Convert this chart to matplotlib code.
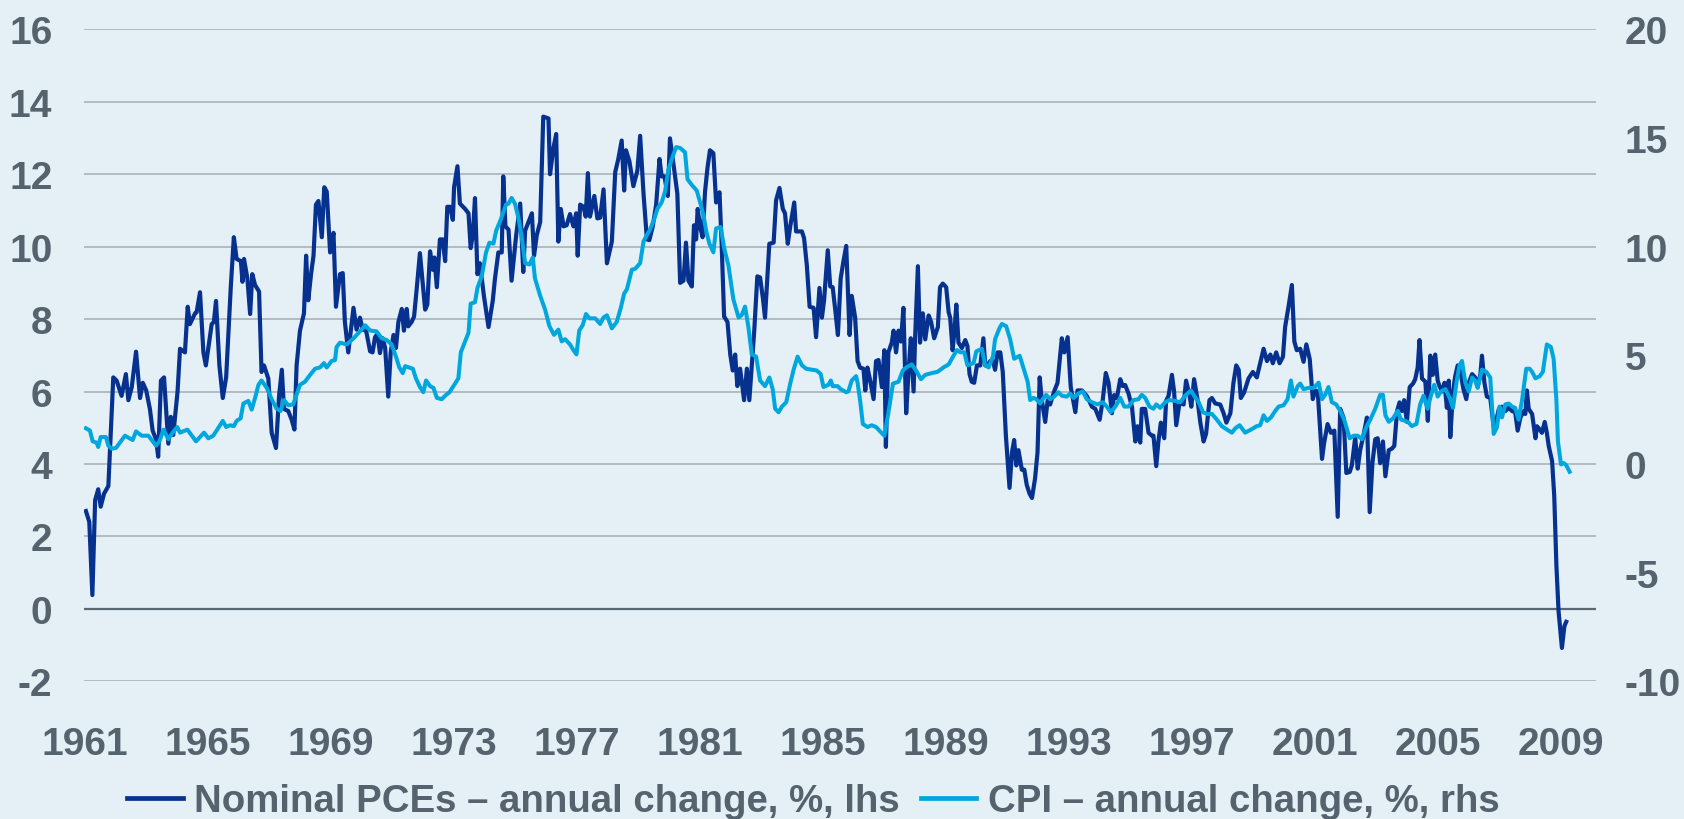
import numpy as np
import matplotlib
matplotlib.use('Agg')
import matplotlib.pyplot as plt
from matplotlib.lines import Line2D

#----Data (decimal year, % y/y)----
pce_t = [1961.04, 1961.15, 1961.25, 1961.34, 1961.44, 1961.52, 1961.63, 1961.77, 1961.93, 1962.04,
         1962.20, 1962.34, 1962.42, 1962.53, 1962.67, 1962.80, 1962.89, 1963.00, 1963.12, 1963.21,
         1963.32, 1963.39, 1963.48, 1963.58, 1963.72, 1963.80, 1963.88, 1964.02, 1964.10, 1964.26,
         1964.35, 1964.42, 1964.59, 1964.64, 1964.75, 1964.86, 1964.94, 1965.13, 1965.20, 1965.27,
         1965.38, 1965.49, 1965.60, 1965.75, 1965.85, 1965.94, 1966.08, 1966.13, 1966.18, 1966.29,
         1966.38, 1966.45, 1966.54, 1966.67, 1966.75, 1966.83, 1966.97, 1967.08, 1967.22, 1967.32,
         1967.41, 1967.48, 1967.62, 1967.73, 1967.82, 1967.89, 1968.00, 1968.13, 1968.20, 1968.27,
         1968.36, 1968.44, 1968.52, 1968.60, 1968.71, 1968.79, 1968.87, 1968.98, 1969.09, 1969.17,
         1969.30, 1969.39, 1969.46, 1969.57, 1969.74, 1969.84, 1969.95, 1970.04, 1970.15, 1970.28,
         1970.36, 1970.44, 1970.52, 1970.60, 1970.69, 1970.77, 1970.87, 1970.95, 1971.04, 1971.12,
         1971.20, 1971.31, 1971.38, 1971.47, 1971.52, 1971.63, 1971.71, 1971.80, 1971.90, 1972.07,
         1972.14, 1972.23, 1972.32, 1972.37, 1972.45, 1972.55, 1972.64, 1972.72, 1972.79, 1972.88,
         1972.97, 1973.01, 1973.12, 1973.20, 1973.37, 1973.48, 1973.55, 1973.62, 1973.69, 1973.77,
         1973.85, 1973.98, 1974.13, 1974.27, 1974.34, 1974.45, 1974.56, 1974.61, 1974.68, 1974.78,
         1974.88, 1975.03, 1975.16, 1975.26, 1975.32, 1975.43, 1975.54, 1975.61, 1975.70, 1975.81,
         1975.91, 1976.08, 1976.13, 1976.24, 1976.33, 1976.40, 1976.48, 1976.57, 1976.67, 1976.78,
         1976.89, 1976.98, 1977.03, 1977.11, 1977.22, 1977.29, 1977.36, 1977.43, 1977.57, 1977.67,
         1977.76, 1977.87, 1977.98, 1978.14, 1978.25, 1978.35, 1978.46, 1978.54, 1978.60, 1978.71,
         1978.84, 1978.97, 1979.06, 1979.17, 1979.28, 1979.36, 1979.47, 1979.58, 1979.69, 1979.76,
         1979.85, 1979.96, 1980.03, 1980.14, 1980.27, 1980.36, 1980.47, 1980.55, 1980.63, 1980.74,
         1980.81, 1980.88, 1980.93, 1981.01, 1981.09, 1981.17, 1981.25, 1981.33, 1981.44, 1981.53,
         1981.64, 1981.71, 1981.79, 1981.90, 1981.99, 1982.07, 1982.15, 1982.22, 1982.31, 1982.36,
         1982.44, 1982.53, 1982.61, 1982.69, 1982.77, 1982.87, 1982.96, 1983.05, 1983.12, 1983.26,
         1983.40, 1983.48, 1983.59, 1983.70, 1983.77, 1983.86, 1983.94, 1984.07, 1984.13, 1984.32,
         1984.39, 1984.48, 1984.57, 1984.70, 1984.78, 1984.89, 1984.97, 1985.04, 1985.16, 1985.24,
         1985.32, 1985.40, 1985.49, 1985.58, 1985.67, 1985.76, 1985.87, 1985.94, 1986.05, 1986.13,
         1986.21, 1986.32, 1986.38, 1986.45, 1986.54, 1986.65, 1986.73, 1986.81, 1986.92, 1987.00,
         1987.05, 1987.13, 1987.24, 1987.30, 1987.38, 1987.46, 1987.54, 1987.62, 1987.71, 1987.79,
         1987.86, 1987.95, 1988.00, 1988.09, 1988.16, 1988.25, 1988.33, 1988.44, 1988.52, 1988.62,
         1988.74, 1988.81, 1988.90, 1989.01, 1989.09, 1989.14, 1989.22, 1989.28, 1989.34, 1989.41,
         1989.52, 1989.63, 1989.70, 1989.77, 1989.84, 1989.92, 1990.01, 1990.12, 1990.22, 1990.28,
         1990.35, 1990.44, 1990.53, 1990.60, 1990.68, 1990.77, 1990.85, 1990.95, 1991.07, 1991.15,
         1991.22, 1991.29, 1991.36, 1991.47, 1991.55, 1991.63, 1991.72, 1991.80, 1991.90, 1991.98,
         1992.05, 1992.12, 1992.23, 1992.31, 1992.39, 1992.52, 1992.63, 1992.77, 1992.85, 1992.96,
         1993.06, 1993.21, 1993.28, 1993.42, 1993.58, 1993.75, 1993.86, 1994.00, 1994.10, 1994.20,
         1994.29, 1994.40, 1994.47, 1994.56, 1994.67, 1994.75, 1994.83, 1994.94, 1995.05, 1995.16,
         1995.23, 1995.32, 1995.37, 1995.48, 1995.59, 1995.70, 1995.75, 1995.84, 1995.91, 1995.99,
         1996.10, 1996.16, 1996.24, 1996.35, 1996.42, 1996.49, 1996.60, 1996.73, 1996.81, 1996.92,
         1996.98, 1997.07, 1997.18, 1997.27, 1997.38, 1997.46, 1997.57, 1997.65, 1997.76, 1997.92,
         1998.03, 1998.12, 1998.25, 1998.35, 1998.44, 1998.52, 1998.59, 1998.70, 1998.84, 1998.98,
         1999.11, 1999.22, 1999.33, 1999.44, 1999.55, 1999.63, 1999.74, 1999.85, 1999.96, 2000.03,
         2000.14, 2000.25, 2000.33, 2000.41, 2000.52, 2000.63, 2000.72, 2000.83, 2000.93, 2001.01,
         2001.09, 2001.23, 2001.30, 2001.41, 2001.52, 2001.63, 2001.74, 2001.82, 2001.93, 2002.02,
         2002.13, 2002.20, 2002.31, 2002.39, 2002.47, 2002.58, 2002.69, 2002.78, 2002.87, 2002.96,
         2003.04, 2003.12, 2003.21, 2003.29, 2003.40, 2003.50, 2003.58, 2003.67, 2003.75, 2003.83,
         2003.90, 2003.99, 2004.08, 2004.19, 2004.26, 2004.34, 2004.40, 2004.48, 2004.59, 2004.67,
         2004.75, 2004.83, 2004.91, 2004.99, 2005.05, 2005.13, 2005.21, 2005.29, 2005.35, 2005.40,
         2005.49, 2005.56, 2005.64, 2005.73, 2005.83, 2005.92, 2006.00, 2006.11, 2006.21, 2006.29,
         2006.38, 2006.43, 2006.51, 2006.59, 2006.70, 2006.81, 2006.90, 2006.98, 2007.08, 2007.19,
         2007.30, 2007.41, 2007.51, 2007.59, 2007.68, 2007.79, 2007.84, 2007.89, 2007.95, 2008.06,
         2008.17, 2008.22, 2008.31, 2008.38, 2008.47, 2008.54, 2008.60, 2008.71, 2008.78, 2008.85,
         2008.92, 2009.03, 2009.11, 2009.17]
pce_v = [2.70, 2.40, 0.38, 3.00, 3.30, 2.82, 3.18, 3.39, 6.39, 6.30,
         5.88, 6.48, 5.76, 6.12, 7.10, 5.82, 6.24, 6.03, 5.52, 4.92,
         4.68, 4.20, 6.30, 6.39, 4.56, 5.30, 4.80, 6.00, 7.18, 7.08,
         8.34, 7.86, 8.16, 8.19, 8.74, 7.08, 6.72, 7.86, 7.92, 8.50,
         6.72, 5.82, 6.39, 8.88, 10.26, 9.66, 9.60, 9.03, 9.66, 9.12,
         8.14, 9.24, 8.94, 8.76, 6.54, 6.72, 6.36, 4.86, 4.44, 5.88,
         6.60, 5.52, 5.46, 5.22, 4.95, 6.72, 7.68, 8.16, 9.75, 8.52,
         9.24, 9.75, 11.16, 11.26, 10.26, 11.64, 11.52, 9.84, 10.38, 8.34,
         9.24, 9.27, 7.92, 7.08, 8.31, 7.71, 8.04, 7.71, 7.68, 7.11,
         7.08, 7.50, 7.59, 7.06, 7.47, 7.20, 5.86, 7.08, 7.56, 7.20,
         7.92, 8.28, 7.68, 8.28, 7.80, 7.92, 8.07, 8.88, 9.82, 8.26,
         8.40, 9.87, 9.36, 9.70, 8.88, 10.20, 10.20, 9.60, 11.10, 11.10,
         10.74, 11.64, 12.22, 11.19, 11.04, 10.92, 9.96, 10.32, 11.34, 9.24,
         9.54, 8.64, 7.78, 8.52, 9.12, 9.84, 9.84, 11.94, 10.56, 10.47,
         9.06, 10.32, 11.19, 9.30, 10.44, 10.68, 10.92, 9.75, 10.32, 10.68,
         13.59, 13.54, 12.00, 12.72, 13.11, 10.14, 11.04, 10.56, 10.59, 10.90,
         10.56, 10.92, 9.75, 11.16, 11.10, 10.83, 12.03, 10.83, 11.40, 10.78,
         10.80, 11.58, 9.54, 10.14, 12.06, 12.42, 12.93, 11.55, 12.66, 12.36,
         11.67, 12.10, 13.06, 11.46, 10.20, 10.18, 10.56, 11.16, 12.42, 11.94,
         11.94, 11.40, 12.99, 12.30, 11.46, 9.00, 9.06, 10.11, 9.06, 8.90,
         10.59, 10.20, 11.04, 10.56, 10.26, 11.52, 12.18, 12.66, 12.58, 11.22,
         11.50, 10.08, 8.07, 7.92, 7.02, 6.58, 7.02, 6.15, 6.63, 6.30,
         5.76, 6.63, 5.76, 6.72, 7.68, 9.18, 9.15, 8.58, 8.04, 10.08,
         10.11, 11.28, 11.62, 11.04, 10.92, 10.08, 10.56, 11.22, 10.42, 10.42,
         10.23, 9.48, 8.34, 8.31, 7.50, 8.86, 8.04, 8.52, 9.90, 8.90,
         8.88, 8.28, 7.56, 9.12, 9.60, 10.02, 7.56, 8.64, 8.04, 6.84,
         6.66, 6.63, 6.03, 6.66, 6.30, 5.79, 6.84, 6.87, 6.12, 7.14,
         4.47, 7.08, 7.35, 7.68, 7.08, 7.68, 7.38, 8.31, 5.40, 6.60,
         7.47, 6.00, 7.47, 9.46, 7.35, 8.16, 7.44, 8.10, 7.92, 7.47,
         7.78, 8.88, 8.98, 8.88, 8.19, 8.04, 7.14, 7.68, 8.40, 7.35,
         7.20, 7.42, 7.26, 6.48, 6.27, 6.24, 6.72, 6.72, 7.47, 6.72,
         6.72, 6.84, 6.84, 6.60, 7.08, 7.08, 6.54, 4.80, 3.34, 4.32,
         4.66, 3.96, 4.38, 3.84, 3.84, 3.42, 3.18, 3.06, 3.60, 4.32,
         6.39, 5.76, 5.16, 5.76, 5.64, 6.00, 6.24, 7.47, 7.08, 7.50,
         6.12, 5.43, 6.03, 6.03, 5.88, 5.58, 5.52, 5.22, 5.76, 6.51,
         6.24, 5.40, 5.90, 5.82, 6.34, 6.15, 6.18, 5.94, 5.58, 4.62,
         5.04, 4.59, 5.52, 5.52, 4.86, 4.78, 4.78, 3.94, 4.62, 5.14,
         4.71, 5.74, 5.88, 6.46, 6.00, 5.07, 5.70, 5.64, 6.30, 5.90,
         5.58, 6.34, 5.79, 5.16, 4.62, 4.83, 5.76, 5.82, 5.67, 5.64,
         5.40, 5.14, 5.40, 6.24, 6.72, 6.60, 5.82, 5.98, 6.36, 6.54,
         6.39, 6.78, 7.18, 6.84, 7.02, 6.78, 7.08, 6.78, 6.96, 7.78,
         8.34, 8.94, 7.38, 7.14, 7.18, 6.82, 7.30, 6.90, 5.79, 6.03,
         6.00, 4.14, 4.59, 5.10, 4.86, 4.92, 2.54, 5.52, 5.28, 3.75,
         3.78, 3.96, 4.74, 3.87, 4.38, 4.80, 5.28, 2.67, 4.04, 4.68,
         4.71, 4.02, 4.62, 3.66, 4.38, 4.42, 4.50, 5.46, 5.70, 5.46,
         5.76, 5.16, 6.12, 6.22, 6.34, 6.66, 7.42, 6.36, 6.27, 5.19,
         6.99, 6.46, 7.02, 6.30, 6.15, 6.00, 6.24, 5.55, 6.30, 4.74,
         6.00, 6.42, 6.72, 6.54, 6.06, 5.79, 6.24, 6.48, 6.39, 6.12,
         6.48, 6.99, 6.24, 5.86, 5.82, 5.04, 5.22, 5.52, 5.58, 5.46,
         5.55, 5.46, 5.43, 4.92, 5.28, 5.46, 5.38, 6.03, 5.52, 5.38,
         4.71, 5.04, 4.95, 4.86, 5.16, 4.86, 4.50, 4.08, 3.12, 1.20,
         -0.06, -1.08, -0.48, -0.36]

cpi_t = [1961.04, 1961.17, 1961.26, 1961.39, 1961.44, 1961.52, 1961.69, 1961.77, 1961.88, 1962.02,
         1962.31, 1962.56, 1962.67, 1962.85, 1963.07, 1963.21, 1963.32, 1963.43, 1963.56, 1963.72,
         1963.86, 1964.01, 1964.10, 1964.34, 1964.62, 1964.88, 1965.02, 1965.18, 1965.31, 1965.49,
         1965.60, 1965.73, 1965.85, 1965.94, 1966.07, 1966.16, 1966.32, 1966.43, 1966.54, 1966.65,
         1966.75, 1966.92, 1967.08, 1967.24, 1967.37, 1967.48, 1967.62, 1967.78, 1968.00, 1968.16,
         1968.33, 1968.49, 1968.65, 1968.78, 1968.87, 1969.03, 1969.14, 1969.19,
         1969.30, 1969.52, 1969.74, 1969.95, 1970.12, 1970.28, 1970.49, 1970.66, 1970.82, 1970.98,
         1971.12, 1971.23, 1971.34, 1971.42, 1971.67, 1971.77, 1971.90, 1972.01, 1972.10, 1972.23,
         1972.34, 1972.45, 1972.61, 1972.75, 1972.86, 1972.99, 1973.15, 1973.23, 1973.37, 1973.48,
         1973.55, 1973.69, 1973.77, 1973.91, 1974.05, 1974.16, 1974.29, 1974.38, 1974.51, 1974.61,
         1974.70, 1974.78, 1974.88, 1974.99, 1975.10, 1975.21, 1975.32, 1975.46, 1975.57, 1975.64,
         1975.81, 1975.97, 1976.11, 1976.26, 1976.40, 1976.51, 1976.62, 1976.78, 1976.89, 1976.99,
         1977.08, 1977.19, 1977.30, 1977.41, 1977.60,
         1977.76, 1977.87, 1977.98, 1978.14, 1978.30, 1978.43, 1978.54, 1978.63, 1978.79, 1978.90,
         1979.06, 1979.17, 1979.28, 1979.38, 1979.51, 1979.62, 1979.76, 1979.87, 1979.98, 1980.09,
         1980.23, 1980.36, 1980.52, 1980.60, 1980.74, 1980.90, 1981.01, 1981.12, 1981.21, 1981.31,
         1981.44, 1981.53, 1981.68, 1981.79, 1981.93, 1982.09, 1982.26, 1982.36, 1982.47, 1982.58,
         1982.69, 1982.83, 1982.96, 1983.12, 1983.26, 1983.37, 1983.45, 1983.56, 1983.67, 1983.81,
         1983.94, 1984.05, 1984.18, 1984.32, 1984.46, 1984.64, 1984.80, 1984.93, 1985.02, 1985.18,
         1985.26, 1985.32, 1985.48, 1985.58, 1985.76, 1985.83, 1985.94, 1986.08, 1986.13,
         1986.21, 1986.30, 1986.45, 1986.59, 1986.73, 1986.86, 1987.00, 1987.13, 1987.28, 1987.46,
         1987.60, 1987.71, 1987.89, 1988.03, 1988.19, 1988.33, 1988.54, 1988.73, 1988.92, 1989.09,
         1989.25, 1989.36, 1989.47, 1989.60, 1989.70, 1989.90, 1989.99, 1990.17, 1990.28, 1990.39,
         1990.53, 1990.60, 1990.74, 1990.82, 1990.96, 1991.09, 1991.22, 1991.40, 1991.53, 1991.66,
         1991.74, 1991.85, 1991.94, 1992.07, 1992.15, 1992.26, 1992.39, 1992.52, 1992.66, 1992.77,
         1992.93, 1993.04, 1993.15, 1993.31, 1993.45, 1993.58, 1993.75, 1993.93, 1994.10, 1994.23,
         1994.36, 1994.51,
         1994.67, 1994.80, 1994.94, 1995.10, 1995.26, 1995.37, 1995.48, 1995.62, 1995.75, 1995.84,
         1995.97, 1996.13, 1996.27, 1996.46, 1996.62, 1996.78, 1996.97, 1997.07, 1997.22, 1997.36,
         1997.49, 1997.65, 1997.81, 1997.97, 1998.14, 1998.30, 1998.41, 1998.55, 1998.73, 1998.92,
         1999.11, 1999.22, 1999.33, 1999.44, 1999.57, 1999.71, 1999.82, 1999.98, 2000.11, 2000.22,
         2000.30, 2000.44, 2000.52, 2000.63, 2000.79, 2000.96, 2001.12, 2001.23, 2001.33, 2001.44,
         2001.55, 2001.69, 2001.82, 2001.95, 2002.13, 2002.26, 2002.39, 2002.53, 2002.67, 2002.80,
         2002.96,
         2003.12, 2003.21, 2003.29, 2003.40, 2003.54, 2003.69, 2003.80, 2003.94, 2004.05, 2004.15,
         2004.30, 2004.42, 2004.53, 2004.66, 2004.77, 2004.88, 2004.99, 2005.10, 2005.24, 2005.38,
         2005.49, 2005.60, 2005.70, 2005.78, 2005.89, 2006.00, 2006.11, 2006.21, 2006.29, 2006.43,
         2006.57, 2006.70, 2006.81, 2006.92, 2007.00, 2007.08, 2007.19, 2007.30, 2007.41, 2007.51,
         2007.62, 2007.73, 2007.87, 2007.98, 2008.06, 2008.17, 2008.31, 2008.41, 2008.54, 2008.67,
         2008.76, 2008.85, 2008.90, 2009.00, 2009.09, 2009.17, 2009.28]
cpi_v = [1.64, 1.54, 1.04, 0.98, 0.78, 1.24, 1.24, 0.84, 0.70, 0.74,
         1.30, 1.10, 1.50, 1.30, 1.30, 1.04, 0.84, 1.04, 1.58, 1.14,
         1.44, 1.70, 1.44, 1.58, 1.04, 1.44, 1.18, 1.30, 1.58, 1.98,
         1.70, 1.78, 1.74, 1.98, 2.10, 2.78, 2.90, 2.50, 3.04, 3.64,
         3.84, 3.50, 2.98, 2.54, 2.44, 2.94, 2.70, 2.74, 3.64, 3.78,
         4.10, 4.38, 4.44, 4.64, 4.44, 4.74, 4.78, 5.38,
         5.58, 5.50, 5.78, 6.10, 6.38, 6.14, 6.10, 5.78, 5.70, 5.50,
         4.94, 4.44, 4.18, 4.50, 4.38, 3.94, 3.54, 3.30, 3.84, 3.58,
         3.50, 3.04, 2.98, 3.18, 3.30, 3.58, 3.94, 5.14, 5.64, 6.04,
         7.38, 7.44, 8.10, 8.64, 9.74, 10.18, 10.14, 10.74, 11.18, 11.58,
         11.94, 11.98, 12.24, 11.98, 11.34, 10.44, 9.24, 9.18, 9.50, 8.54,
         7.74, 7.10, 6.34, 5.94, 6.18, 5.64, 5.74, 5.50, 5.24, 5.04,
         6.14, 6.38, 6.90, 6.70, 6.70,
         6.44, 6.74, 6.84, 6.24, 6.54, 7.18, 7.84, 8.04, 8.94, 8.98,
         9.24, 10.24, 10.54, 10.78, 11.24, 11.74, 12.04, 12.54, 13.54, 14.04,
         14.58, 14.54, 14.34, 13.10, 12.84, 12.58, 12.04, 11.44, 10.70, 10.14,
         9.74, 10.84, 10.90, 9.94, 9.14, 7.58, 6.74, 6.84, 7.24, 6.30,
         5.04, 4.94, 3.84, 3.58, 3.98, 3.44, 2.54, 2.38, 2.64, 2.84,
         3.70, 4.34, 4.94, 4.54, 4.38, 4.34, 4.30, 4.14, 3.54, 3.64,
         3.84, 3.58, 3.58, 3.44, 3.30, 3.34, 3.84, 4.04, 3.74,
         2.94, 1.84, 1.70, 1.78, 1.70, 1.50, 1.30, 2.34, 3.70, 3.78,
         4.30, 4.44, 4.58, 4.30, 3.90, 4.10, 4.18, 4.24, 4.44, 4.58,
         4.98, 5.24, 5.14, 5.14, 4.54, 4.64, 5.18, 5.30, 4.54, 4.44,
         4.94, 5.74, 6.24, 6.44, 6.34, 5.74, 4.84, 4.98, 4.38, 3.78,
         2.94, 3.04, 2.98, 2.78, 2.98, 3.18, 2.98, 3.10, 3.30, 3.14,
         3.10, 3.24, 3.04, 3.24, 3.34, 2.98, 2.84, 2.74, 2.84, 2.64,
         2.38, 2.64,
         3.04, 2.64, 2.64, 2.94, 2.98, 3.18, 3.04, 2.64, 2.54, 2.74,
         2.58, 2.84, 2.94, 2.90, 2.84, 3.14, 3.38, 3.14, 2.84, 2.38,
         2.30, 2.30, 2.04, 1.74, 1.58, 1.44, 1.64, 1.78, 1.44, 1.58,
         1.74, 1.78, 2.24, 1.98, 2.14, 2.44, 2.64, 2.70, 2.98, 3.84,
         3.10, 3.58, 3.70, 3.44, 3.50, 3.50, 3.74, 2.98, 3.18, 3.54,
         2.84, 2.74, 2.44, 2.04, 1.18, 1.30, 1.30, 1.14, 1.70, 2.04,
         2.54,
         3.18, 3.18, 2.24, 1.94, 2.10, 2.44, 2.04, 1.98, 1.90, 1.74,
         1.84, 2.74, 3.14, 2.54, 3.14, 3.64, 3.10, 3.34, 3.44, 3.04,
         2.58, 3.74, 4.54, 4.74, 3.74, 3.34, 3.98, 3.84, 3.50, 4.34,
         4.24, 3.98, 1.38, 1.70, 2.64, 2.14, 2.74, 2.78, 2.64, 2.58,
         2.04, 2.90, 4.38, 4.38, 4.24, 3.94, 4.04, 4.24, 5.50, 5.38,
         4.84, 2.94, 1.04, -0.02, 0.04, -0.06, -0.36]

year_ticks = [1961, 1965, 1969, 1973, 1977, 1981, 1985, 1989, 1993, 1997, 2001, 2005, 2009]
left_ticks = [-2, 0, 2, 4, 6, 8, 10, 12, 14, 16]
right_ticks = [-10, -5, 0, 5, 10, 15, 20]

pce_label = 'Nominal PCEs \u2013 annual change, %, lhs'
cpi_label = 'CPI \u2013 annual change, %, rhs'

#----Style----
bg = '#e4f0f6'
txt = '#56636e'
dark = '#06318f'
light = '#00a7de'

plt.rcParams['font.family'] = ['Liberation Sans', 'DejaVu Sans']
plt.rcParams['font.weight'] = 'bold'
plt.rcParams['axes.unicode_minus'] = False

fig = plt.figure(figsize=(16.84, 8.2), dpi=100, facecolor=bg)
ax1 = fig.add_axes([0.0501, 0.168, 0.8975, 0.795])
ax1.set_facecolor(bg)

#----Gridlines, darker zero line----
for v in left_ticks:
    if v == 0:
        ax1.axhline(v, color='#5b6771', lw=1.6, zorder=1)
    else:
        ax1.axhline(v, color='#a4adb3', lw=1.1, zorder=1)

ax1.plot(pce_t, pce_v, color=dark, lw=3.0, solid_joinstyle='round', zorder=3)
ax1.set_ylim(-2, 16)
ax1.set_yticks(left_ticks)
ax1.set_xlim(1960.99, 2010.13)
ax1.set_xticks(year_ticks)
ax1.set_xticklabels([str(y) for y in year_ticks])

ax2 = ax1.twinx()
ax2.plot(cpi_t, cpi_v, color=light, lw=2.9, solid_joinstyle='round', zorder=3)
ax2.set_ylim(-10, 20)
ax2.set_yticks(right_ticks)

for a in (ax1, ax2):
    for s in a.spines.values():
        s.set_visible(False)
    a.tick_params(length=0, labelsize=28, colors=txt)
ax1.tick_params(axis='y', pad=23)
ax1.tick_params(axis='x', pad=32)
ax2.tick_params(axis='y', pad=21)

#----Legend under the chart----
handles = [Line2D([], [], color=dark, lw=3.4), Line2D([], [], color=light, lw=3.4)]
fig.legend(handles, [pce_label, cpi_label], loc='center', bbox_to_anchor=(0.483, 0.022),
           ncol=2, frameon=False, fontsize=27.6, handlelength=1.45, handletextpad=0.3,
           columnspacing=0.55, labelcolor=txt)

fig.savefig('out.png', dpi=100, facecolor=bg)
